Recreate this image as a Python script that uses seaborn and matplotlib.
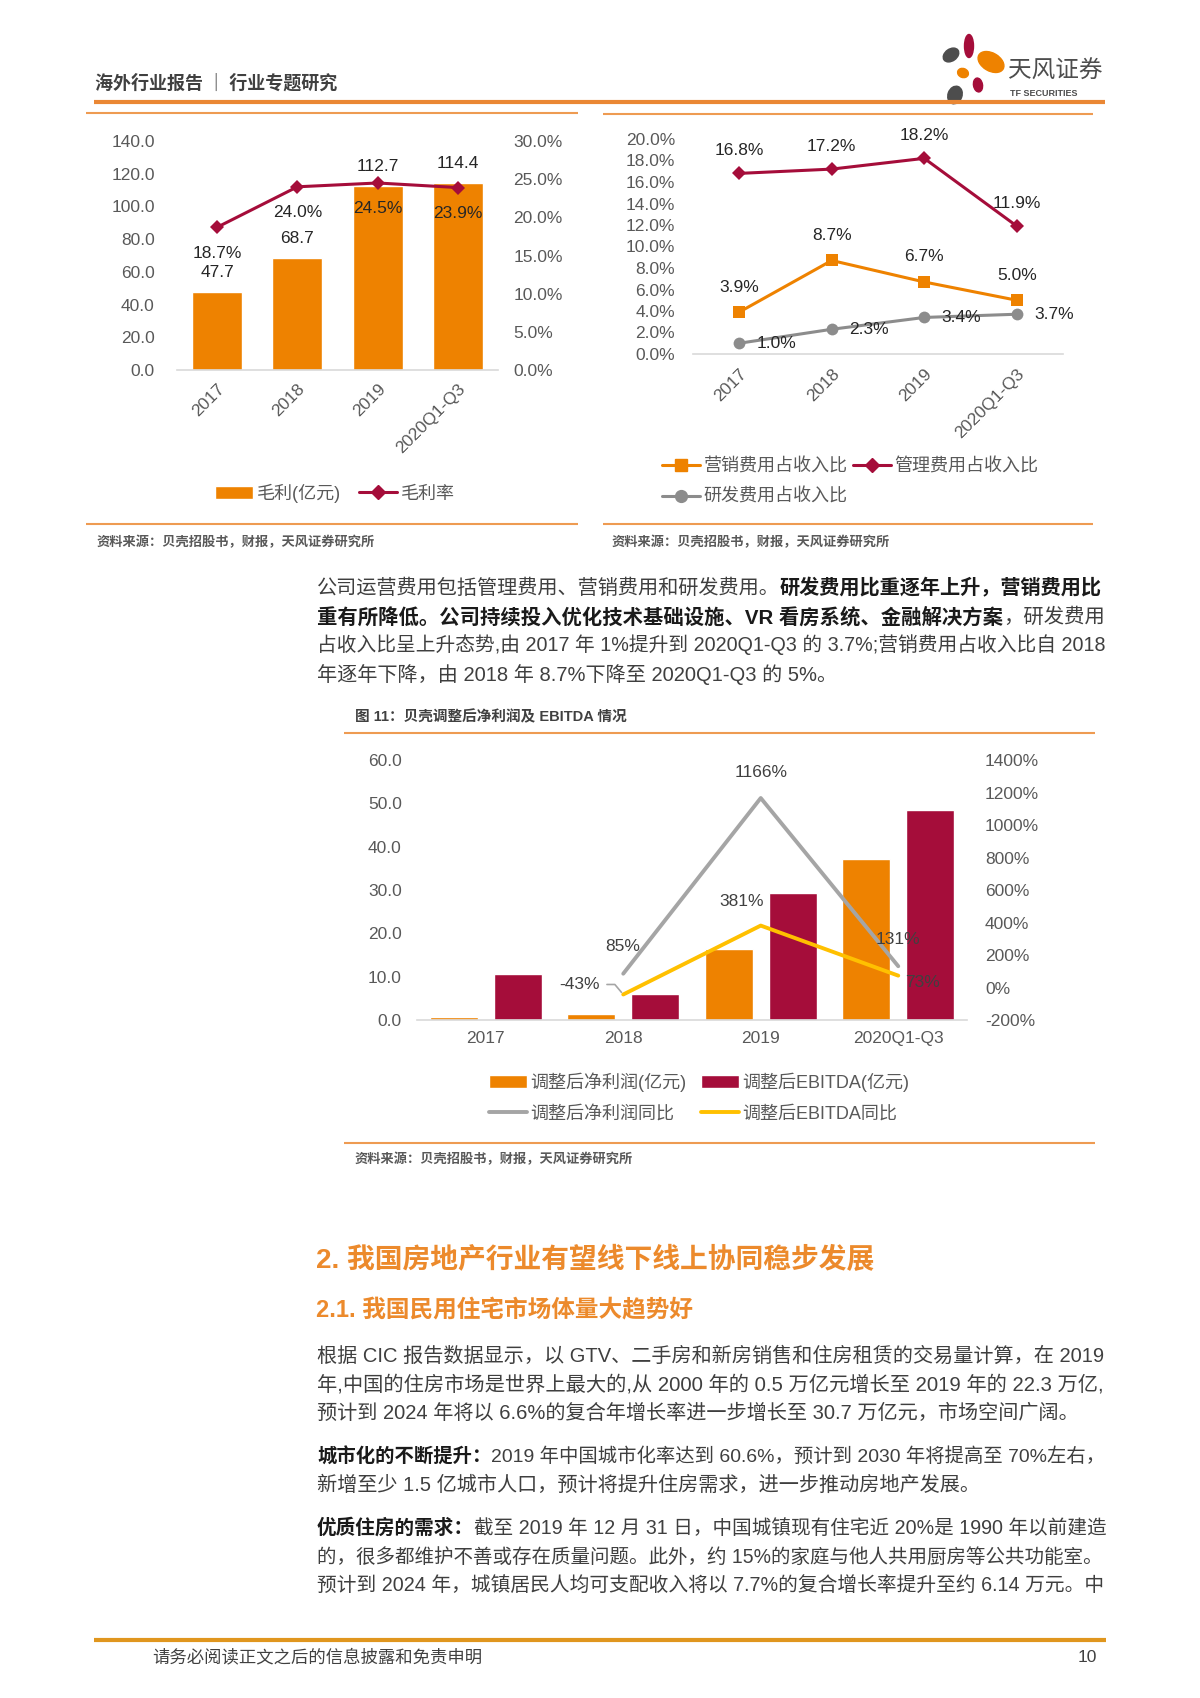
import numpy as np
import pandas as pd
import seaborn as sns
import matplotlib.pyplot as plt
from matplotlib import font_manager
from matplotlib.lines import Line2D
from matplotlib.patches import Patch, Ellipse

# data
periods = ['2017', '2018', '2019', '2020Q1-Q3']

# chart 1 - gross profit and margin
gross_profit = [47.7, 68.7, 112.7, 114.4]
gross_margin = [18.7, 24.0, 24.5, 23.9]

# chart 2 - expense ratios (% of revenue)
selling_ratio = [3.9, 8.7, 6.7, 5.0]
admin_ratio = [16.8, 17.2, 18.2, 11.9]
rd_ratio = [1.0, 2.3, 3.4, 3.7]

# chart 3 - adjusted net profit / EBITDA, bars
adj_net_profit = [0.7, 1.3, 16.5, 37.2]
adj_ebitda = [10.6, 5.9, 29.3, 48.4]
net_profit_yoy = [np.nan, 85, 1166, 131]
ebitda_yoy = [np.nan, -43, 381, 73]

ORANGE = '#EE8200'
RED = '#A50D3A'
GRAY = '#8C8C8C'
LGRAY = '#A5A5A5'
YELLOW = '#FFC000'
RULE = '#EE9B52'
TICK = '#595959'
TXT = '#3F3F3F'

W, H = 1200, 1698
TEXT_W = 786  # justified body width in px

sns.set_theme(style='white')
names = {f.name for f in font_manager.fontManager.ttflist}
NARROW = 'Liberation Sans Narrow' if 'Liberation Sans Narrow' in names else 'Liberation Sans'
SANS = ['Liberation Sans', 'Noto Sans CJK SC', 'DejaVu Sans']
NARROW_F = [NARROW, 'Noto Sans CJK SC', 'DejaVu Sans']
CJK = ['Noto Sans CJK SC', 'DejaVu Sans']
plt.rcParams['font.family'] = SANS
plt.rcParams['axes.unicode_minus'] = False

fig = plt.figure(figsize=(12, 16.98), dpi=100)
renderer = fig.canvas.get_renderer()


def rect(x0, y0, x1, y1):
    return [x0 / W, 1 - y1 / H, (x1 - x0) / W, (y1 - y0) / H]


# page layer in pixel coords
page = fig.add_axes([0, 0, 1, 1])
page.set_xlim(0, W)
page.set_ylim(H, 0)
page.axis('off')


def rule(x0, x1, y, color=RULE, lw=1.5):
    page.plot([x0, x1], [y, y], color=color, lw=lw, solid_capstyle='butt')


def runs(x, y, parts, size=14.5, width=None, family=NARROW_F):
    texts = []
    for s, bold in parts:
        texts.append(page.text(x, y, s, fontsize=size, va='center', family=family,
                               fontweight='bold' if bold else 'normal',
                               color='#1A1A1A' if bold else TXT))
    if width:
        total = sum(t.get_window_extent(renderer).width for t in texts)
        for t in texts:
            t.set_fontsize(size * width / total)
    for t in texts:
        t.set_x(x)
        x += t.get_window_extent(renderer).width


def style_axis(ax):
    for s in ['top', 'right', 'left']:
        ax.spines[s].set_visible(False)
    ax.spines['bottom'].set_color('#D9D9D9')
    ax.spines['bottom'].set_linewidth(1.2)
    ax.tick_params(length=0, colors=TICK, labelsize=12)
    ax.set_facecolor('none')
    ax.set_xlabel('')
    ax.set_ylabel('')


def style_twin(ax):
    for s in ax.spines.values():
        s.set_visible(False)
    ax.tick_params(length=0, colors=TICK)
    ax.set_ylabel('')
    ax.grid(False)


# header
page.text(95, 83, '海外行业报告 ｜ 行业专题研究', fontsize=13, fontweight='bold',
          color='#404040', va='center', family=CJK)
rule(94, 1105, 102, color='#EA8734', lw=3)
petals = [((951, 55), 17, 12, -35, '#4D4D4D'), ((969, 46), 9, 23, 0, RED),
          ((991, 62), 28, 18, 30, ORANGE), ((963, 73), 11, 9, 20, ORANGE),
          ((978, 85), 9, 14, -10, RED), ((955, 95), 14, 18, 20, '#4D4D4D')]
for c, w, h, a, col in petals:
    page.add_patch(Ellipse(c, w, h, angle=a, color=col))
page.text(1008, 71, '天风证券', fontsize=17, color='#4D4D4D', va='center', family=CJK)
page.text(1010, 93, 'TF SECURITIES', fontsize=6.5, fontweight='bold', color='#4D4D4D',
          va='center', family=NARROW_F)

# ---------- chart 1 ----------
rule(86, 578, 113)
rule(86, 578, 524)
page.text(97, 542, '资料来源：贝壳招股书，财报，天风证券研究所', fontsize=9.5, fontweight='bold',
          color='#595959', va='center', family=CJK)

df1 = pd.DataFrame({'period': periods, 'gross_profit': gross_profit, 'gross_margin': gross_margin})
ax1 = fig.add_axes(rect(177, 141, 498, 370))
sns.barplot(data=df1, x='period', y='gross_profit', color=ORANGE, saturation=1, width=0.62, ax=ax1)
ax1b = ax1.twinx()
sns.lineplot(x=np.arange(len(periods)), y=gross_margin, color=RED, lw=2.2, marker='D',
             markersize=7, markeredgewidth=0, ax=ax1b)
style_axis(ax1)
style_twin(ax1b)
ax1.set_xlim(-0.5, 3.5)
ax1.set_ylim(0, 140)
ax1.set_yticks(np.arange(0, 141, 20))
ax1.set_yticklabels([f'{v:.1f}' for v in np.arange(0, 141, 20)], fontsize=12.5)
ax1.tick_params(axis='y', pad=16)
ax1.set_xticks(range(len(periods)))
ax1.set_xticklabels(periods, rotation=45, ha='right', rotation_mode='anchor', fontsize=12.5)
ax1.tick_params(axis='x', pad=8)
ax1b.set_ylim(0, 30)
ax1b.set_yticks(np.arange(0, 31, 5))
ax1b.set_yticklabels([f'{v:.1f}%' for v in np.arange(0, 31, 5)], fontsize=12.5, family=NARROW_F)
ax1b.tick_params(axis='y', pad=11)
for i, v in enumerate(gross_profit):
    ax1.annotate(f'{v:.1f}', (i, v), xytext=(0, 19), textcoords='offset pixels',
                 ha='center', va='center', fontsize=12.5, color='#262626')
for i, v in enumerate(gross_margin):
    ax1b.annotate(f'{v:.1f}%', (i, v), xytext=(0, -26), textcoords='offset pixels',
                  ha='center', va='center', fontsize=12.5, color='#262626')
fig.legend(handles=[Patch(facecolor=ORANGE, label='毛利(亿元)'),
                    Line2D([0], [0], color=RED, lw=2.2, marker='D', ms=7, label='毛利率')],
           loc='center', bbox_to_anchor=(335, 493), bbox_transform=page.transData, ncol=2,
           frameon=False, fontsize=13, handlelength=2.1, handletextpad=0.2, columnspacing=1.0,
           borderpad=0, borderaxespad=0, labelcolor=TICK)

# ---------- chart 2 ----------
rule(603, 1093, 114)
rule(603, 1093, 524)
page.text(612, 542, '资料来源：贝壳招股书，财报，天风证券研究所', fontsize=9.5, fontweight='bold',
          color='#595959', va='center', family=CJK)

ax2 = fig.add_axes(rect(693, 139, 1063, 354))
xpos = np.arange(len(periods))
sns.lineplot(x=xpos, y=selling_ratio, color=ORANGE, lw=2.2, marker='s', markersize=8.5,
             markeredgewidth=0, ax=ax2)
sns.lineplot(x=xpos, y=admin_ratio, color=RED, lw=2.2, marker='D', markersize=7,
             markeredgewidth=0, ax=ax2)
sns.lineplot(x=xpos, y=rd_ratio, color=GRAY, lw=2.2, marker='o', markersize=8.5,
             markeredgewidth=0, ax=ax2)
style_axis(ax2)
ax2.set_xlim(-0.5, 3.5)
ax2.set_ylim(0, 20)
ax2.set_yticks(np.arange(0, 21, 2))
ax2.set_yticklabels([f'{v:.1f}%' for v in np.arange(0, 21, 2)], fontsize=12.5)
ax2.tick_params(axis='y', pad=13)
ax2.set_xticks(xpos)
ax2.set_xticklabels(periods, rotation=45, ha='right', rotation_mode='anchor', fontsize=12.5)
ax2.tick_params(axis='x', pad=9)
for i in xpos:
    ax2.annotate(f'{admin_ratio[i]:.1f}%', (i, admin_ratio[i]), xytext=(0, 23),
                 textcoords='offset pixels', ha='center', va='center', fontsize=12.5, color='#262626')
    ax2.annotate(f'{selling_ratio[i]:.1f}%', (i, selling_ratio[i]), xytext=(0, 25),
                 textcoords='offset pixels', ha='center', va='center', fontsize=12.5, color='#262626')
    ax2.annotate(f'{rd_ratio[i]:.1f}%', (i, rd_ratio[i]), xytext=(37, 0),
                 textcoords='offset pixels', ha='center', va='center', fontsize=12.5, color='#262626')
h_sell = Line2D([0], [0], color=ORANGE, lw=2.2, marker='s', ms=8.5, label='营销费用占收入比')
h_admin = Line2D([0], [0], color=RED, lw=2.2, marker='D', ms=7, label='管理费用占收入比')
h_rd = Line2D([0], [0], color=GRAY, lw=2.2, marker='o', ms=8.5, label='研发费用占收入比')
fig.legend(handles=[h_sell, h_rd, h_admin], loc='center left', bbox_to_anchor=(662, 482),
           bbox_transform=page.transData, ncol=2, frameon=False, fontsize=13, handlelength=2.1,
           handletextpad=0.2, columnspacing=0.3, labelspacing=0.75, borderpad=0,
           borderaxespad=0, labelcolor=TICK)

# ---------- text block 1 ----------
runs(317, 588, [('公司运营费用包括管理费用、营销费用和研发费用。', False),
                ('研发费用比重逐年上升，营销费用比', True)], width=TEXT_W)
runs(317, 617, [('重有所降低。公司持续投入优化技术基础设施、VR 看房系统、金融解决方案', True),
                ('，研发费用', False)], width=TEXT_W)
runs(317, 645, [('占收入比呈上升态势,由 2017 年 1%提升到 2020Q1-Q3 的 3.7%;营销费用占收入比自 2018', False)],
     width=TEXT_W)
runs(317, 675, [('年逐年下降，由 2018 年 8.7%下降至 2020Q1-Q3 的 5%。', False)])

# ---------- chart 3 ----------
page.text(355, 717, '图 11：贝壳调整后净利润及 EBITDA 情况', fontsize=10.5, fontweight='bold',
          color='#404040', va='center', family=NARROW_F)
rule(344, 1095, 733)
rule(344, 1095, 1143)
page.text(355, 1159, '资料来源：贝壳招股书，财报，天风证券研究所', fontsize=9.5, fontweight='bold',
          color='#595959', va='center', family=CJK)

df3 = pd.DataFrame({
    'period': periods * 2,
    'series': ['调整后净利润(亿元)'] * 4 + ['调整后EBITDA(亿元)'] * 4,
    'value': adj_net_profit + adj_ebitda,
})
ax3 = fig.add_axes(rect(417, 760, 967, 1020))
sns.barplot(data=df3, x='period', y='value', hue='series', palette=[ORANGE, RED],
            saturation=1, width=0.93, gap=0.25, legend=False, ax=ax3)
ax3b = ax3.twinx()
yoy = pd.DataFrame({'pos': xpos, 'net': net_profit_yoy, 'ebitda': ebitda_yoy}).dropna()
sns.lineplot(data=yoy, x='pos', y='net', color=LGRAY, lw=2.8, ax=ax3b)
sns.lineplot(data=yoy, x='pos', y='ebitda', color=YELLOW, lw=2.8, ax=ax3b)
style_axis(ax3)
style_twin(ax3b)
ax3.set_xlim(-0.5, 3.5)
ax3.set_ylim(0, 60)
ax3.set_yticks(np.arange(0, 61, 10))
ax3.set_yticklabels([f'{v:.1f}' for v in np.arange(0, 61, 10)], fontsize=12.5)
ax3.tick_params(axis='y', pad=11)
ax3.set_xticks(xpos)
ax3.set_xticklabels(periods, fontsize=12.5)
ax3.tick_params(axis='x', pad=8)
ax3b.set_ylim(-200, 1400)
ax3b.set_yticks(np.arange(-200, 1401, 200))
ax3b.set_yticklabels([f'{v:.0f}%' for v in np.arange(-200, 1401, 200)], fontsize=12.5,
                     family=NARROW_F)
ax3b.tick_params(axis='y', pad=13)
lab = dict(textcoords='offset pixels', ha='center', va='center', fontsize=12.5,
           color='#404040', family=NARROW_F)
ax3b.annotate('85%', (1, net_profit_yoy[1]), xytext=(-1, 27), **lab)
ax3b.annotate('1166%', (2, net_profit_yoy[2]), xytext=(0, 26), **lab)
ax3b.annotate('131%', (3, net_profit_yoy[3]), xytext=(0, 27), **lab)
ax3b.annotate('-43%', (1, ebitda_yoy[1]), xytext=(-44, 10),
              arrowprops=dict(arrowstyle='-', color=LGRAY, lw=1.2, shrinkA=3, shrinkB=2,
                              connectionstyle='angle,angleA=0,angleB=-50,rad=0'), **lab)
ax3b.annotate('381%', (2, ebitda_yoy[2]), xytext=(-19, 24), **lab)
ax3b.annotate('73%', (3, ebitda_yoy[3]), xytext=(24, -7), **lab)
h3 = [Patch(facecolor=ORANGE, label='调整后净利润(亿元)'),
      Line2D([0], [0], color=LGRAY, lw=2.8, label='调整后净利润同比'),
      Patch(facecolor=RED, label='调整后EBITDA(亿元)'),
      Line2D([0], [0], color=YELLOW, lw=2.8, label='调整后EBITDA同比')]
fig.legend(handles=h3, loc='center left', bbox_to_anchor=(489, 1097.5),
           bbox_transform=page.transData, ncol=2, frameon=False, fontsize=13, handlelength=2.1,
           handletextpad=0.2, columnspacing=0.8, labelspacing=0.75, borderpad=0,
           borderaxespad=0, labelcolor=TICK)

# ---------- section 2 text ----------
page.text(316, 1260, '2. 我国房地产行业有望线下线上协同稳步发展', fontsize=20, fontweight='bold',
          color='#EC8A2C', va='center', family=NARROW_F)
page.text(316, 1310, '2.1. 我国民用住宅市场体量大趋势好', fontsize=17, fontweight='bold',
          color='#EC8A2C', va='center', family=NARROW_F)
runs(317, 1356, [('根据 CIC 报告数据显示，以 GTV、二手房和新房销售和住房租赁的交易量计算，在 2019', False)],
     width=TEXT_W)
runs(317, 1385, [('年,中国的住房市场是世界上最大的,从 2000 年的 0.5 万亿元增长至 2019 年的 22.3 万亿,', False)],
     width=TEXT_W)
runs(317, 1413, [('预计到 2024 年将以 6.6%的复合年增长率进一步增长至 30.7 万亿元，市场空间广阔。', False)])
runs(317, 1457, [('城市化的不断提升：', True),
                 ('2019 年中国城市化率达到 60.6%，预计到 2030 年将提高至 70%左右，', False)],
     width=TEXT_W)
runs(317, 1485, [('新增至少 1.5 亿城市人口，预计将提升住房需求，进一步推动房地产发展。', False)])
runs(317, 1528, [('优质住房的需求：', True),
                 ('截至 2019 年 12 月 31 日，中国城镇现有住宅近 20%是 1990 年以前建造', False)],
     width=TEXT_W)
runs(317, 1557, [('的，很多都维护不善或存在质量问题。此外，约 15%的家庭与他人共用厨房等公共功能室。', False)],
     width=TEXT_W)
runs(317, 1585, [('预计到 2024 年，城镇居民人均可支配收入将以 7.7%的复合增长率提升至约 6.14 万元。中', False)],
     width=TEXT_W)

# footer
rule(94, 1106, 1640, color='#E0961E', lw=3)
page.text(152, 1657, '请务必阅读正文之后的信息披露和免责申明', fontsize=12.5, color='#404040',
          va='center', family=CJK)
page.text(1097, 1658, '10', fontsize=12.5, color='#404040', va='center', ha='right', family=SANS)

fig.savefig('out.png', dpi=100)
